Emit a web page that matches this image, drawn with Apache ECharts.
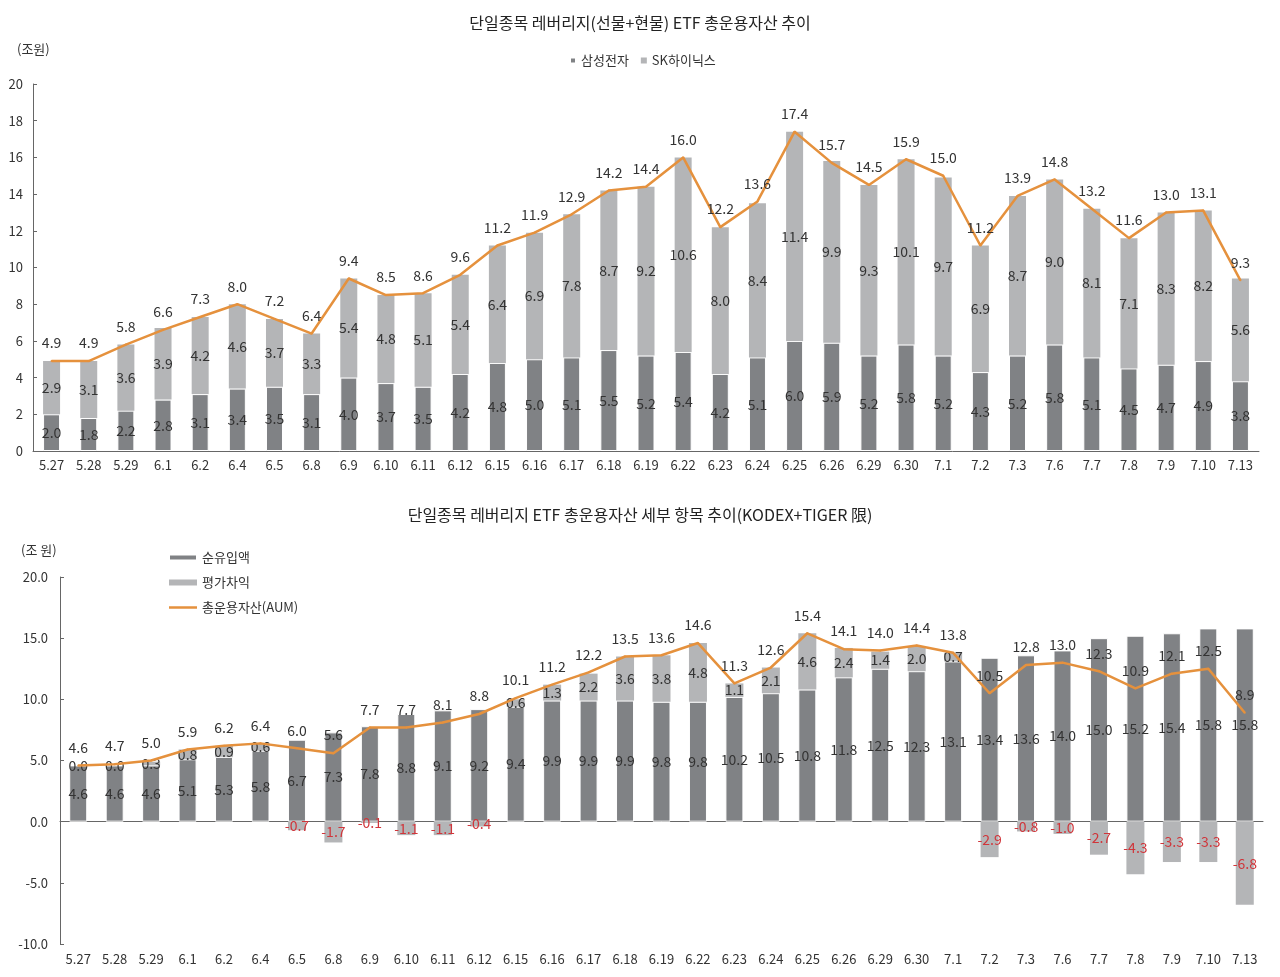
<html>
<head>
<meta charset="utf-8">
<script src="https://cdn.jsdelivr.net/npm/echarts@6/dist/echarts.min.js"></script>
<style>
    html, body { margin: 0; padding: 0; background: #fff; }
    #main { width: 1280px; height: 977px; }
</style>
</head>
<body>
<div id="main"></div>
<script>
    var days = ['5.27', '5.28', '5.29', '6.1', '6.2', '6.4', '6.5', '6.8', '6.9', '6.10', '6.11', '6.12',
        '6.15', '6.16', '6.17', '6.18', '6.19', '6.22', '6.23', '6.24', '6.25', '6.26', '6.29', '6.30',
        '7.1', '7.2', '7.3', '7.6', '7.7', '7.8', '7.9', '7.10', '7.13'];

    // 상단: 종목별 AUM (조원)
    var samsung = [2.0, 1.8, 2.2, 2.8, 3.1, 3.4, 3.5, 3.1, 4.0, 3.7, 3.5, 4.2, 4.8, 5.0, 5.1, 5.5, 5.2,
        5.4, 4.2, 5.1, 6.0, 5.9, 5.2, 5.8, 5.2, 4.3, 5.2, 5.8, 5.1, 4.5, 4.7, 4.9, 3.8];
    var hynix = [2.9, 3.1, 3.6, 3.9, 4.2, 4.6, 3.7, 3.3, 5.4, 4.8, 5.1, 5.4, 6.4, 6.9, 7.8, 8.7, 9.2,
        10.6, 8.0, 8.4, 11.4, 9.9, 9.3, 10.1, 9.7, 6.9, 8.7, 9.0, 8.1, 7.1, 8.3, 8.2, 5.6];
    var total = [4.9, 4.9, 5.8, 6.6, 7.3, 8.0, 7.2, 6.4, 9.4, 8.5, 8.6, 9.6, 11.2, 11.9, 12.9, 14.2, 14.4,
        16.0, 12.2, 13.6, 17.4, 15.7, 14.5, 15.9, 15.0, 11.2, 13.9, 14.8, 13.2, 11.6, 13.0, 13.1, 9.3];

    // 하단: 세부 항목 (KODEX+TIGER)
    var netInflow = [4.6, 4.6, 4.6, 5.1, 5.3, 5.8, 6.7, 7.3, 7.8, 8.8, 9.1, 9.2, 9.4, 9.9, 9.9, 9.9, 9.8,
        9.8, 10.2, 10.5, 10.8, 11.8, 12.5, 12.3, 13.1, 13.4, 13.6, 14.0, 15.0, 15.2, 15.4, 15.8, 15.8];
    var valuation = [0.0, 0.0, 0.3, 0.8, 0.9, 0.6, -0.7, -1.7, -0.1, -1.1, -1.1, -0.4, 0.6, 1.3, 2.2, 3.6, 3.8,
        4.8, 1.1, 2.1, 4.6, 2.4, 1.4, 2.0, 0.7, -2.9, -0.8, -1.0, -2.7, -4.3, -3.3, -3.3, -6.8];
    var aum = [4.6, 4.7, 5.0, 5.9, 6.2, 6.4, 6.0, 5.6, 7.7, 7.7, 8.1, 8.8, 10.1, 11.2, 12.2, 13.5, 13.6,
        14.6, 11.3, 12.6, 15.4, 14.1, 14.0, 14.4, 13.8, 10.5, 12.8, 13.0, 12.3, 10.9, 12.1, 12.5, 8.9];

    var DARK = '#808285';
    var LIGHT = '#b4b5b7';
    var ORANGE = '#e5913d';
    var TXT = '#333';
    var RED = '#d0353a';

    function fmt1(p) {
        return Number(p.value).toFixed(1);
    }

    var chart = echarts.init(document.getElementById('main'));

    chart.setOption({
        animation: false,
        textStyle: { fontFamily: "'Noto Sans CJK KR', sans-serif", color: TXT },
        title: [
            { text: '단일종목 레버리지(선물+현물) ETF 총운용자산 추이', left: 'center', top: 10,
              textStyle: { fontSize: 16, fontWeight: 'normal', color: '#222' } },
            { text: '(조원)', left: 12, top: 38,
              textStyle: { fontSize: 13, fontWeight: 'normal', color: TXT } },
            { text: '단일종목 레버리지 ETF 총운용자산 세부 항목 추이(KODEX+TIGER 限)', left: 'center', top: 502,
              textStyle: { fontSize: 16, fontWeight: 'normal', color: '#222' } },
            { text: '(조 원)', left: 16, top: 539,
              textStyle: { fontSize: 13, fontWeight: 'normal', color: TXT } }
        ],
        legend: [
            {
                data: ['삼성전자', 'SK하이닉스'],
                left: 564, top: 49,
                icon: 'rect', itemWidth: 6, itemHeight: 6, itemGap: 12,
                textStyle: { fontSize: 13, color: TXT }
            },
            {
                data: [
                    { name: '순유입액', icon: 'rect' },
                    { name: '평가차익', icon: 'rect' },
                    { name: '총운용자산(AUM)', icon: 'path://M0,0 L28,0 L28,2.5 L0,2.5 Z' }
                ],
                orient: 'vertical',
                left: 163, top: 546,
                itemWidth: 28, itemHeight: 6, itemGap: 12,
                textStyle: { fontSize: 13, color: TXT }
            }
        ],
        grid: [
            { left: 33, right: 21, top: 84, height: 367 },
            { left: 60, right: 17, top: 577, height: 367 }
        ],
        xAxis: [
            {
                type: 'category', data: days, gridIndex: 0,
                axisLine: { lineStyle: { color: '#666' } },
                axisTick: { inside: true, length: 4, lineStyle: { color: '#666' } },
                axisLabel: { fontSize: 13, color: TXT, margin: 8, interval: 0 }
            },
            {
                type: 'category', data: days, gridIndex: 1, position: 'bottom',
                axisLine: { show: false, onZero: false },
                axisTick: { show: false },
                axisLabel: { fontSize: 13, color: TXT, margin: 9, interval: 0 }
            },
            {
                type: 'category', data: days, gridIndex: 1, position: 'bottom',
                axisLine: { onZero: true, lineStyle: { color: '#666' } },
                axisTick: { inside: true, length: 4, lineStyle: { color: '#666' } },
                axisLabel: { show: false }
            }
        ],
        yAxis: [
            {
                type: 'value', gridIndex: 0, min: 0, max: 20, interval: 2,
                splitLine: { show: false },
                axisLine: { show: true, lineStyle: { color: '#666' } },
                axisTick: { show: true, inside: true, length: 4, lineStyle: { color: '#666' } },
                axisLabel: { fontSize: 13, color: TXT, margin: 10 }
            },
            {
                type: 'value', gridIndex: 1, min: -10, max: 20, interval: 5,
                splitLine: { show: false },
                axisLine: { show: true, lineStyle: { color: '#666' } },
                axisTick: { show: true, inside: true, length: 4, lineStyle: { color: '#666' } },
                axisLabel: { fontSize: 13, color: TXT, margin: 12,
                    formatter: function (v) { return v.toFixed(1); } }
            }
        ],
        series: [
            {
                name: '삼성전자', type: 'bar', stack: 'top', xAxisIndex: 0, yAxisIndex: 0,
                data: samsung, barWidth: 17,
                itemStyle: { color: DARK, borderColor: '#fff', borderWidth: 1 },
                label: { show: true, position: 'inside', fontSize: 14, color: TXT, formatter: fmt1 }
            },
            {
                name: 'SK하이닉스', type: 'bar', stack: 'top', xAxisIndex: 0, yAxisIndex: 0,
                data: hynix, barWidth: 17,
                itemStyle: { color: LIGHT },
                label: { show: true, position: 'inside', fontSize: 14, color: TXT, formatter: fmt1 }
            },
            {
                name: '합계', type: 'line', xAxisIndex: 0, yAxisIndex: 0,
                data: total, symbol: 'circle', symbolSize: 2, z: 5,
                lineStyle: { color: ORANGE, width: 2.5 },
                itemStyle: { color: ORANGE },
                label: { show: true, position: 'top', distance: 10, fontSize: 14, color: TXT, formatter: fmt1 }
            },
            {
                name: '순유입액', type: 'bar', stack: 'bottom', xAxisIndex: 1, yAxisIndex: 1,
                data: netInflow, barWidth: 18,
                itemStyle: { color: DARK, borderColor: '#fff', borderWidth: 1 },
                label: { show: true, position: 'inside', fontSize: 14, color: TXT, formatter: fmt1 }
            },
            {
                name: '평가차익', type: 'bar', stack: 'bottom', xAxisIndex: 1, yAxisIndex: 1,
                data: valuation.map(function (v) {
                    return { value: v, label: { color: v < 0 ? RED : TXT } };
                }),
                barWidth: 18,
                itemStyle: { color: LIGHT },
                label: { show: true, position: 'inside', fontSize: 14, formatter: fmt1 }
            },
            {
                name: '총운용자산(AUM)', type: 'line', xAxisIndex: 1, yAxisIndex: 1,
                data: aum, symbol: 'circle', symbolSize: 2, z: 5,
                lineStyle: { color: ORANGE, width: 2.5 },
                itemStyle: { color: ORANGE },
                label: { show: true, position: 'top', distance: 10, fontSize: 14, color: TXT, formatter: fmt1 }
            }
        ]
    });
</script>
</body>
</html>
